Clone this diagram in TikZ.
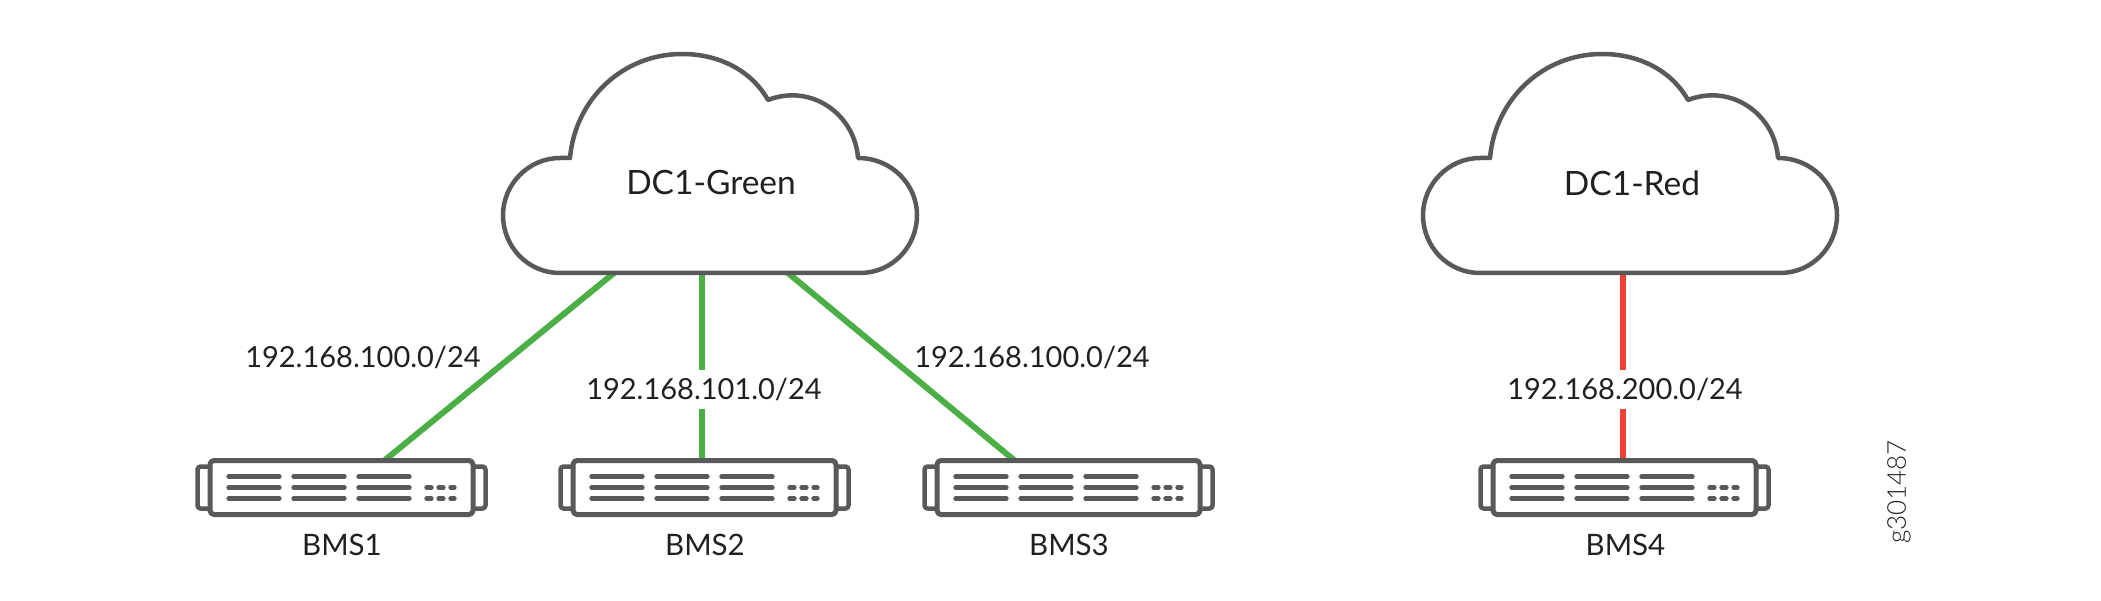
\documentclass[tikz,border=0pt]{standalone}
\usepackage{fontspec}
\setmainfont{Lato}
\newfontfamily\tagfont{Lato Light}
\usetikzlibrary{calc}
\definecolor{icongray}{HTML}{58595B}
\definecolor{linkgreen}{HTML}{4CAF45}
\definecolor{linkred}{HTML}{EF4136}
\definecolor{labelblack}{HTML}{231F20}
\tikzset{
  lbl/.style={inner sep=0pt,text=labelblack,font=\fontsize{29.5}{34}\selectfont},
  netlbl/.style={lbl,font=\fontsize{33.5}{38}\selectfont},
  iplbl/.style={lbl,font=\fontsize{29}{34}\selectfont},
  gaplbl/.style={iplbl,fill=white,inner xsep=3pt,inner ysep=8pt},
  taglbl/.style={lbl,font=\tagfont\fontsize{26}{30}\selectfont},
  icon/.style={draw=icongray,line width=4.5pt,line join=round,fill=white},
  slot/.style={draw=icongray,line width=4.3pt,line cap=round},
  link/.style={line width=6pt}
}
% one cloud, #1 is the name of its centre
\newcommand{\cloudicon}[3]{
\coordinate (#1) at (#2, #3);
\draw[icon] ($(#1) + (-142, -57)$)
  .. controls ($(#1) + (-137, -115)$) and ($(#1) + (-90, -161)$) .. ($(#1) + (-30, -161)$)
  .. controls ($(#1) + (10, -161)$) and ($(#1) + (41, -142)$) .. ($(#1) + (56, -115)$)
  .. controls ($(#1) + (100, -132)$) and ($(#1) + (143, -100)$) .. ($(#1) + (146, -57)$)
  .. controls ($(#1) + (180, -57)$) and ($(#1) + (205, -30)$) .. ($(#1) + (205, 0)$)
  .. controls ($(#1) + (205, 32)$) and ($(#1) + (180, 58)$) .. ($(#1) + (148, 58)$)
  -- ($(#1) + (-152, 58)$)
  .. controls ($(#1) + (-184, 58)$) and ($(#1) + (-209, 32)$) .. ($(#1) + (-209, 0)$)
  .. controls ($(#1) + (-209, -30)$) and ($(#1) + (-184, -57)$) .. ($(#1) + (-152, -57)$)
  -- cycle;
}
% one server, #1 is the name of its centre
\newcommand{\servericon}[3]{
\coordinate (#1) at (#2, #3);
\draw[icon,rounded corners=3pt] ($(#1) + (-144, -21)$) rectangle ($(#1) + (144, 21)$);
\draw[icon,line width=5pt,rounded corners=4pt] ($(#1) + (-131.5, -27)$) rectangle ($(#1) + (131.5, 27)$);
\foreach \y in {-11, 0, 11} {
  \draw[slot] ($(#1) + (-113, \y)$) -- ($(#1) + (-62, \y)$);
  \draw[slot] ($(#1) + (-48, \y)$) -- ($(#1) + (3, \y)$);
  \draw[slot] ($(#1) + (17, \y)$) -- ($(#1) + (68, \y)$);
}
\foreach \y in {0, 11} {
  \draw[slot] ($(#1) + (85, \y)$) -- ($(#1) + (90, \y)$);
  \draw[slot] ($(#1) + (97, \y)$) -- ($(#1) + (102, \y)$);
  \draw[slot] ($(#1) + (109, \y)$) -- ($(#1) + (113, \y)$);
}
}

\begin{document}
\begin{tikzpicture}[x=1pt,y=-1pt]
\useasboundingbox (0, 0) rectangle (2101, 601);

\coordinate (g1) at (614, 273);
\coordinate (g2) at (702, 273);
\coordinate (g3) at (788, 273);
\coordinate (r1) at (1622.5, 273);
\coordinate (b1) at (385, 460);
\coordinate (b2) at (702, 460);
\coordinate (b3) at (1014, 460);
\coordinate (b4) at (1622.5, 460);

\draw[link,linkgreen] (g1) -- (b1);
\draw[link,linkgreen] (g2) -- (b2);
\draw[link,linkgreen] (g3) -- (b3);
\draw[link,linkred] (r1) -- (b4);

\cloudicon{green}{712}{215}
\cloudicon{red}{1632}{215}
\servericon{s1}{341.5}{487.5}
\servericon{s2}{704.5}{487.5}
\servericon{s3}{1068.5}{487.5}
\servericon{s4}{1624.5}{487.5}

\node[netlbl] (dcgreen) at (711, 183) {DC1-Green};
\node[netlbl] (dcred) at (1632, 183) {DC1-Red};
\node[iplbl] (ip1) at (363, 357) {192.168.100.0/24};
\node[gaplbl] (ip2) at (704, 389.5) {192.168.101.0/24};
\node[iplbl] (ip3) at (1032, 357) {192.168.100.0/24};
\node[gaplbl] (ip4) at (1625, 389.5) {192.168.200.0/24};
\node[lbl] (bms1) at (342, 545) {BMS1};
\node[lbl] (bms2) at (705, 545) {BMS2};
\node[lbl] (bms3) at (1069, 545) {BMS3};
\node[lbl] (bms4) at (1625.5, 545) {BMS4};
\node[taglbl,rotate=90] (tag) at (1899, 492) {g301487};
\end{tikzpicture}
\end{document}
